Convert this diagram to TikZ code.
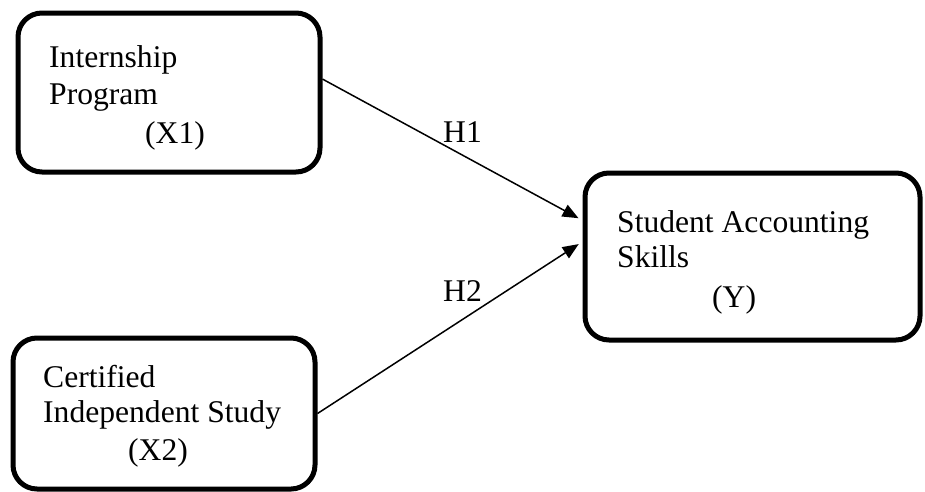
\documentclass[tikz,border=0pt]{standalone}
\usepackage{fontspec}
\setmainfont{Liberation Serif}
\usetikzlibrary{arrows.meta}

\begin{document}
\begin{tikzpicture}[x=1pt,y=-1pt,
  box/.style={draw,line width=5pt,rounded corners=24pt},
  lbl/.style={anchor=base west,inner sep=0pt,font=\fontsize{31.6}{36}\selectfont}]
  \useasboundingbox (0,0) rectangle (925,491);
  \node[box,minimum width=302pt,minimum height=159pt](x1) at (169,92.5){};
  \node[box,minimum width=302pt,minimum height=151pt](x2) at (164,413.5){};
  \node[box,minimum width=335pt,minimum height=167pt](y) at (752.5,256.5){};
  \node[lbl](x1a) at (49,67){Internship};
  \node[lbl](x1b) at (49,104){Program};
  \node[lbl](x1c) at (145,143){(X1)};
  \node[lbl](x2a) at (43,387){Certified};
  \node[lbl](x2b) at (43,422){Independent Study};
  \node[lbl](x2c) at (128,460){(X2)};
  \node[lbl](ya) at (617,232){Student Accounting};
  \node[lbl](yb) at (617,267){Skills};
  \node[lbl](yc) at (712,307){(Y)};
  \node[lbl](h1) at (443,142){H1};
  \node[lbl](h2) at (443,301){H2};
  \draw[line width=1.5pt,-{Triangle[length=16pt,width=13pt]},shorten >=4.5pt] (x1.5.48)--(y.168.69);
  \draw[line width=1.5pt,-{Triangle[length=16pt,width=13pt]},shorten >=4.5pt] (x2.east)--(y.175.39);
\end{tikzpicture}
\end{document}
